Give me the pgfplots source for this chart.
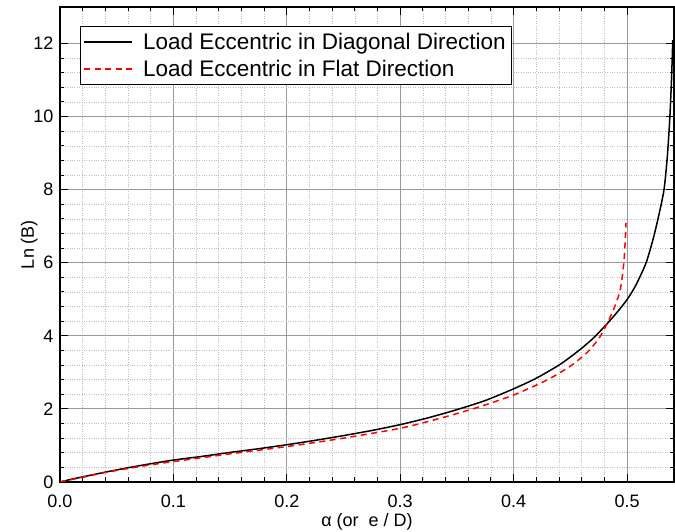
\documentclass[border=0pt]{standalone}
\usepackage{fontspec}
\setmainfont{Liberation Sans}
\usepackage{pgfplots}
\pgfplotsset{compat=1.18}
\begin{document}
\begin{tikzpicture}
\useasboundingbox (-60pt,-50pt) rectangle (615pt,482pt);
\begin{axis}[
    at={(0,0)}, anchor=south west,
    scale only axis, width=614pt, height=475pt,
    xmin=0, xmax=0.5414, ymin=0, ymax=13,
    xtick={0,0.1,0.2,0.3,0.4,0.5},
    xticklabels={0.0,0.1,0.2,0.3,0.4,0.5},
    ytick={0,2,4,6,8,10,12},
    minor x tick num=4, minor y tick num=4,
    tick align=inside,
    major tick length=8pt, minor tick length=4.5pt,
    tick style={black, line width=1pt},
    grid=both,
    major grid style={draw=black!40, line width=0.9pt},
    minor grid style={draw=black!25, dotted, line width=0.6pt},
    axis line style={line width=1.4pt},
    /pgf/number format/assume math mode=true,
    ticklabel style={font=\fontsize{18}{21}\selectfont},
    xticklabel style={yshift=-9pt},
    yticklabel style={xshift=-3pt},
    label style={font=\fontsize{18}{21}\selectfont},
    xlabel={α (or\ \ e / D)},
    xlabel style={yshift=1pt},
    ylabel={Ln (B)},
    ylabel style={yshift=-11pt},
    legend style={at={(0.0326,0.96)}, anchor=north west,
        draw=black, line width=1pt, fill=white,
        font=\fontsize{22.5}{26}\selectfont,
        inner xsep=3pt, inner ysep=4.5pt,
        nodes={inner xsep=3pt, inner ysep=2pt},
        row sep=5.5pt,
        /tikz/every odd column/.append style={column sep=7pt}},
    legend cell align=left,
    legend image code/.code={\draw[#1, line width=1.6pt] (0pt,0pt) -- (48pt,0pt);},
  ]
  % Diagonal direction
  \addplot[black, line width=1.5pt, smooth, tension=0.4] coordinates {
      (0,0) (0.01,0.075) (0.02,0.14) (0.04,0.27) (0.06,0.39) (0.08,0.5)
      (0.1,0.6) (0.125,0.7) (0.15,0.81) (0.175,0.91) (0.2,1.02)
      (0.225,1.14) (0.25,1.27) (0.275,1.41) (0.3,1.57) (0.325,1.76)
      (0.35,1.98) (0.375,2.23) (0.4,2.55) (0.42,2.84) (0.44,3.2)
      (0.45,3.42) (0.46,3.66) (0.47,3.93) (0.48,4.25) (0.49,4.6)
      (0.5,4.99) (0.508,5.4) (0.5168,6.0) (0.523,6.65) (0.528,7.3)
      (0.5326,8.0) (0.5355,8.9) (0.5376,9.9) (0.5392,11.0) (0.5403,12.09)
    };
  \addlegendentry{Load Eccentric in Diagonal Direction}

  % Flat direction
  \addplot[red, line width=1.5pt, dash pattern=on 6pt off 4.5pt, smooth, tension=0.4] coordinates {
      (0,0) (0.02,0.13) (0.04,0.26) (0.06,0.37) (0.08,0.47) (0.1,0.56)
      (0.15,0.77) (0.2,0.97) (0.25,1.2) (0.3,1.47) (0.33,1.7)
      (0.365,2.01) (0.4,2.38) (0.43,2.8) (0.45,3.17) (0.465,3.55)
      (0.475,3.92) (0.481,4.25) (0.488,4.71) (0.494,5.26) (0.4974,6.08)
      (0.4991,7.09)
    };
  \addlegendentry{Load Eccentric in Flat Direction}
\end{axis}
\end{tikzpicture}
\end{document}
